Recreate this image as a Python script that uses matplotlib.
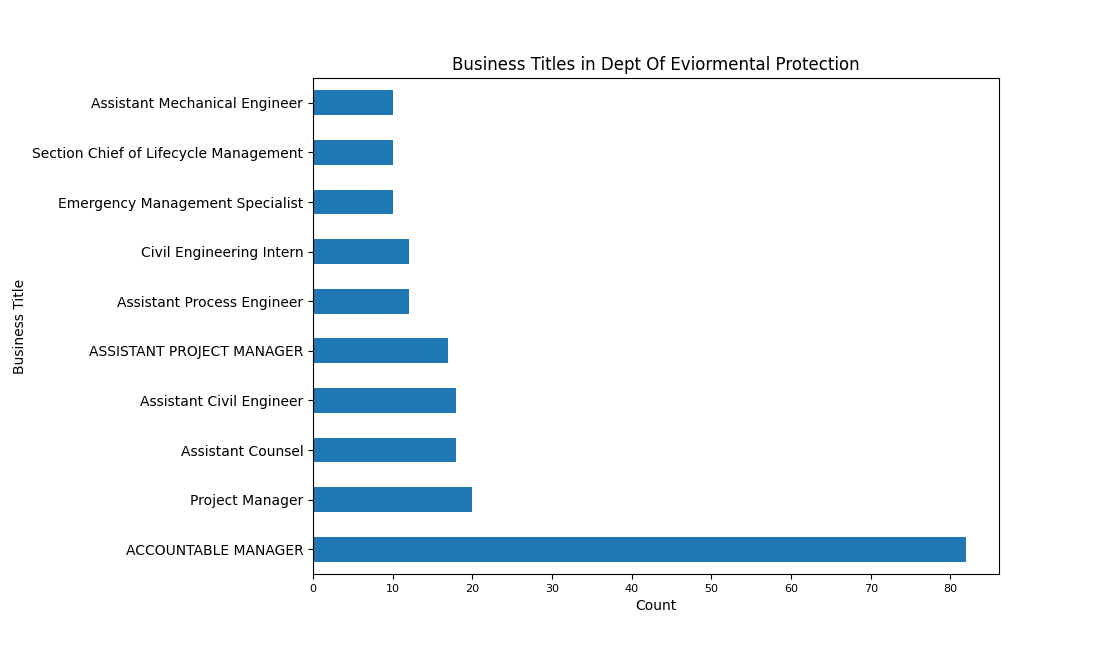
import matplotlib
matplotlib.use("Agg")
import matplotlib.pyplot as plt

titles = ["ACCOUNTABLE MANAGER", "Project Manager", "Assistant Counsel",
          "Assistant Civil Engineer", "ASSISTANT PROJECT MANAGER",
          "Assistant Process Engineer", "Civil Engineering Intern",
          "Emergency Management Specialist",
          "Section Chief of Lifecycle Management",
          "Assistant Mechanical Engineer"]
counts = [82, 20, 18, 18, 17, 12, 12, 10, 10, 10]

fig = plt.figure(figsize=(11.2, 6.45), dpi=100)
ax = fig.add_axes([0.2795, 0.110, 0.6125, 0.769])
ax.barh(range(len(titles)), counts, height=0.5, color="#1f77b4")
ax.set_yticks(range(len(titles)))
ax.set_yticklabels(titles, fontsize=10)
ax.set_ylim(-0.5, len(titles) - 0.5)
ax.set_xlim(0, max(counts) * 1.05)
ax.tick_params(axis="x", labelsize=8)
ax.set_xlabel("Count")
ax.set_ylabel("Business Title")
ax.set_title("Business Titles in Dept Of Eviormental Protection")
fig.savefig("out.png", dpi=100)
